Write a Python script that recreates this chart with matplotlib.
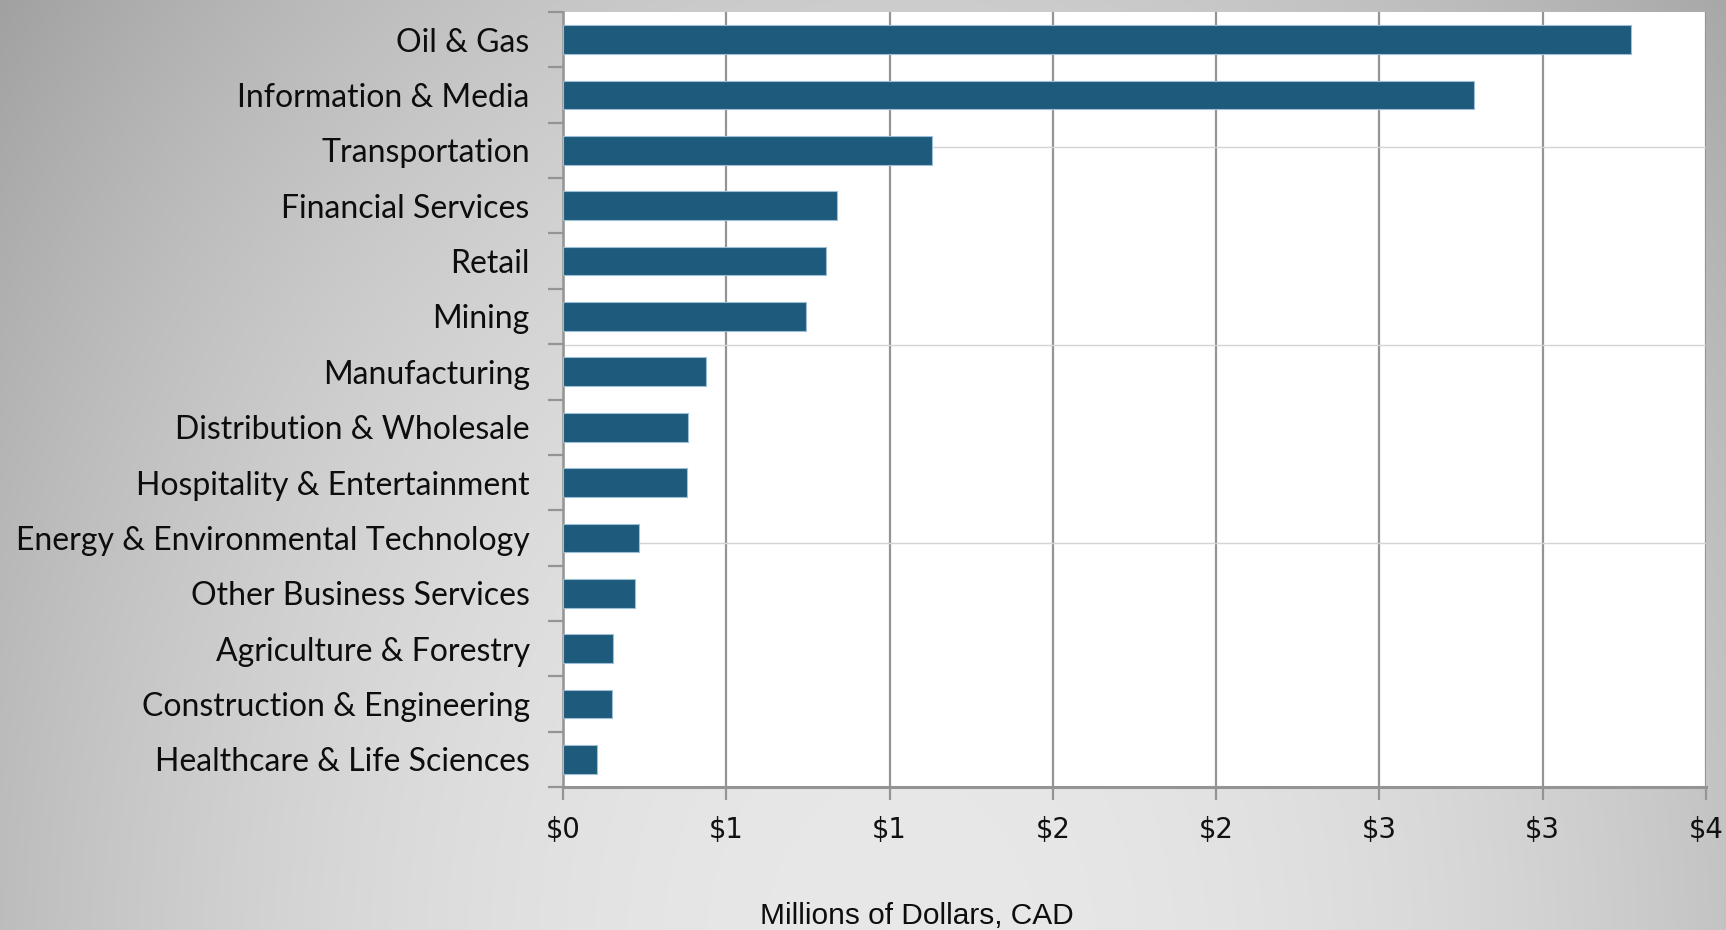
import math
import numpy as np
import matplotlib
matplotlib.use("Agg")
import matplotlib.pyplot as plt
from matplotlib.ticker import FixedLocator, FuncFormatter

# Industry totals, millions of CAD
industries = [
    "Oil & Gas",
    "Information & Media",
    "Transportation",
    "Financial Services",
    "Retail",
    "Mining",
    "Manufacturing",
    "Distribution & Wholesale",
    "Hospitality & Entertainment",
    "Energy & Environmental Technology",
    "Other Business Services",
    "Agriculture & Forestry",
    "Construction & Engineering",
    "Healthcare & Life Sciences",
]
amounts = [3.27, 2.79, 1.13, 0.84, 0.805, 0.743, 0.437, 0.383, 0.379,
           0.234, 0.222, 0.153, 0.150, 0.104]
x_ticks = [0, 0.5, 1.0, 1.5, 2.0, 2.5, 3.0, 3.5]
x_title = "Millions of Dollars, CAD"

W, H, DPI = 1726, 930, 100
fig = plt.figure(figsize=(W / DPI, H / DPI), dpi=DPI)

# soft grey radial background
yy, xx = np.mgrid[0:H, 0:W]
t = ((xx - 900) / 1091.0) ** 2 + ((yy - 960) / 1450.0) ** 2
shade = np.clip(0.91 - 0.25 * t, 0.62, 0.92)
bg = fig.add_axes([0, 0, 1, 1], zorder=-10)
bg.imshow(np.dstack([shade] * 3), aspect="auto", interpolation="bilinear")
bg.axis("off")

left, right, top, bottom = 563, 1706, 12, 787
ax = fig.add_axes([left / W, (H - bottom) / H, (right - left) / W, (bottom - top) / H])
ax.set_facecolor("white")

n = len(industries)
pos = np.arange(n)
ax.barh(pos, amounts, height=0.52, color="#1e5a7c", edgecolor="#9cbfd6",
        linewidth=0.8, zorder=3)

ax.set_xlim(0, 3.5)
ax.set_ylim(n - 0.5, -0.5)

# faint horizontal rules behind the bars
for yf in (0.826, 0.570, 0.315):
    ax.axhline(n - 0.5 - yf * n, color="#d4d4d4", lw=1.0, zorder=1)

grid_c = "#949494"
ax.set_xticks(x_ticks)
ax.xaxis.set_major_formatter(FuncFormatter(lambda v, p: f"${math.floor(v + 0.5)}"))
ax.grid(axis="x", color=grid_c, lw=1.6, zorder=2)
ax.set_axisbelow(True)

# category boundaries carry the tick marks, centres carry the labels
ax.yaxis.set_major_locator(FixedLocator(np.arange(n + 1) - 0.5))
ax.yaxis.set_major_formatter(FuncFormatter(lambda v, p: ""))
ax.yaxis.set_minor_locator(FixedLocator(pos))
ax.set_yticklabels(industries, minor=True)
ax.tick_params(axis="y", which="major", length=11, width=1.6, color=grid_c)
ax.tick_params(axis="y", which="minor", length=0, pad=24)
for lab in ax.get_yticklabels(minor=True):
    lab.set_fontfamily(["Lato", "DejaVu Sans"])
    lab.set_fontsize(23.0)
    lab.set_color("#0d0d0d")

ax.tick_params(axis="x", length=9, width=1.6, color=grid_c, pad=12,
               labelsize=19.8, labelcolor="#111111")

for s in ("top", "right"):
    ax.spines[s].set_visible(False)
ax.spines["left"].set_color(grid_c)
ax.spines["left"].set_linewidth(1.8)
ax.spines["bottom"].set_color(grid_c)
ax.spines["bottom"].set_linewidth(2.2)

fig.text(917 / W, 6 / H, x_title, ha="center", va="baseline",
         family=["Liberation Sans", "DejaVu Sans"], fontsize=21.5,
         color="#0d0d0d")

fig.savefig("out.png", dpi=DPI)
